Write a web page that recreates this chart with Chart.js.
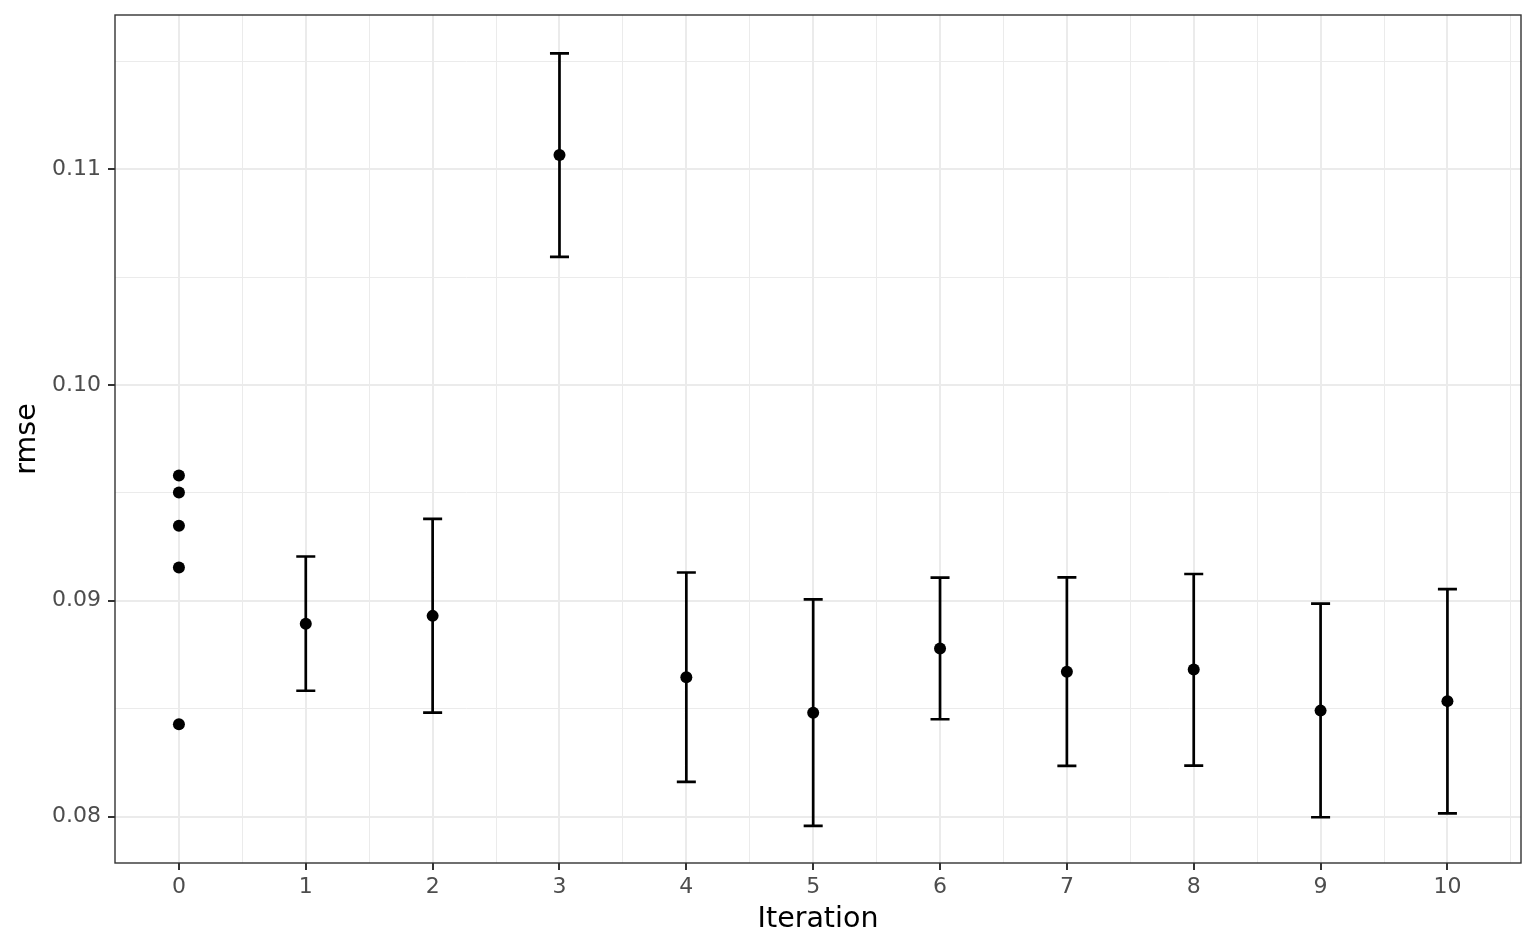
<!DOCTYPE html>
<html>
<head>
<meta charset="utf-8">
<script src="https://cdn.jsdelivr.net/npm/chart.js@4.4.1/dist/chart.umd.min.js"></script>
<style>
  html, body { margin: 0; padding: 0; background: #ffffff; }
  #wrap { width: 1536px; height: 949px; position: relative; }
</style>
</head>
<body>
<div id="wrap"><canvas id="c"></canvas></div>
<script>
// ---- data ----
const iter0Values = [0.09580, 0.09502, 0.09348, 0.09154, 0.08428];
const iterations = [1, 2, 3, 4, 5, 6, 7, 8, 9, 10];
const means = [0.08893, 0.08930, 0.11065, 0.08646, 0.08481, 0.08779, 0.08671, 0.08681, 0.08491, 0.08535];
const lower = [0.08583, 0.08482, 0.10593, 0.08161, 0.07957, 0.08451, 0.08235, 0.08236, 0.07997, 0.08015];
const upper = [0.09205, 0.09379, 0.11536, 0.09131, 0.09006, 0.09107, 0.09108, 0.09124, 0.08987, 0.09054];
const xTickValues = [0, 1, 2, 3, 4, 5, 6, 7, 8, 9, 10];
const xTickLabels = ['0', '1', '2', '3', '4', '5', '6', '7', '8', '9', '10'];
const xMinorValues = [0.5, 1.5, 2.5, 3.5, 4.5, 5.5, 6.5, 7.5, 8.5, 9.5, 10.5];
const yTickValues = [0.08, 0.09, 0.10, 0.11];
const yTickLabels = ['0.08', '0.09', '0.10', '0.11'];
const yMinorValues = [0.085, 0.095, 0.105, 0.115];
const xTitle = 'Iteration';
const yTitle = 'rmse';

// ---- styling constants ----
const CAP_HALF = 0.075;
const FONT = 'DejaVu Sans';

// build error bar segment datasets from the data
const stemData = [];
const capData = [];
iterations.forEach((it, i) => {
  stemData.push({x: it, y: lower[i]}, {x: it, y: upper[i]}, {x: it, y: null});
  capData.push({x: it - CAP_HALF, y: upper[i]}, {x: it + CAP_HALF, y: upper[i]}, {x: it, y: null});
  capData.push({x: it - CAP_HALF, y: lower[i]}, {x: it + CAP_HALF, y: lower[i]}, {x: it, y: null});
});
const pointData = iter0Values.map(v => ({x: 0, y: v}))
  .concat(iterations.map((it, i) => ({x: it, y: means[i]})));

const isMajor = (v, arr) => arr.some(a => Math.abs(a - v) < 1e-9);

const borderPlugin = {
  id: 'panelBorder',
  afterDraw(chart) {
    const {ctx, chartArea: a} = chart;
    ctx.save();
    ctx.strokeStyle = '#333333';
    ctx.lineWidth = 1.4;
    ctx.strokeRect(a.left, a.top, a.right - a.left, a.bottom - a.top);
    ctx.restore();
  }
};

new Chart(document.getElementById('c'), {
  type: 'scatter',
  data: {
    datasets: [
      {
        type: 'line', data: stemData, borderColor: '#000000', borderWidth: 2.7,
        pointRadius: 0, spanGaps: false, fill: false, order: 3
      },
      {
        type: 'line', data: capData, borderColor: '#000000', borderWidth: 2.7,
        pointRadius: 0, spanGaps: false, fill: false, order: 2
      },
      {
        type: 'scatter', data: pointData, backgroundColor: '#000000', borderColor: '#000000',
        pointRadius: 6, borderWidth: 0, order: 1
      }
    ]
  },
  options: {
    responsive: true,
    maintainAspectRatio: false,
    animation: false,
    devicePixelRatio: 1,
    layout: { padding: { left: 0, right: 15, top: 15, bottom: 0 } },
    plugins: { legend: { display: false }, tooltip: { enabled: false } },
    scales: {
      x: {
        type: 'linear',
        min: -0.504,
        max: 10.58,
        afterBuildTicks: s => {
          s.ticks = xTickValues.concat(xMinorValues).sort((a, b) => a - b).map(v => ({value: v}));
        },
        afterFit: s => { s.height = 86; s.paddingLeft = 0; s.paddingRight = 0; },
        ticks: {
          autoSkip: false, maxRotation: 0, minRotation: 0, padding: 4,
          color: '#4D4D4D', font: { family: FONT, size: 22 },
          callback: (v) => {
            const idx = xTickValues.findIndex(t => Math.abs(t - v) < 1e-9);
            return idx >= 0 ? xTickLabels[idx] : '';
          }
        },
        grid: {
          color: c => '#EBEBEB',
          lineWidth: c => isMajor(c.tick.value, xTickValues) ? 2 : 1,
          tickColor: c => isMajor(c.tick.value, xTickValues) ? '#333333' : 'rgba(0,0,0,0)',
          tickWidth: 2,
          tickLength: 7,
          drawTicks: true
        },
        border: { display: false },
        title: {
          display: true, text: xTitle, color: '#000000',
          font: { family: FONT, size: 28.5 }, padding: { top: 0, bottom: 12.5 }
        }
      },
      y: {
        type: 'linear',
        min: 0.07785,
        max: 0.11714,
        afterBuildTicks: s => {
          s.ticks = yTickValues.concat(yMinorValues).sort((a, b) => a - b).map(v => ({value: v}));
        },
        afterFit: s => { s.width = 115; s.paddingTop = 0; s.paddingBottom = 0; },
        ticks: {
          autoSkip: false, padding: 7,
          color: '#4D4D4D', font: { family: FONT, size: 22 },
          callback: (v) => {
            const idx = yTickValues.findIndex(t => Math.abs(t - v) < 1e-9);
            return idx >= 0 ? yTickLabels[idx] : '';
          }
        },
        grid: {
          color: c => '#EBEBEB',
          lineWidth: c => isMajor(c.tick.value, yTickValues) ? 2 : 1,
          tickColor: c => isMajor(c.tick.value, yTickValues) ? '#333333' : 'rgba(0,0,0,0)',
          tickWidth: 2,
          tickLength: 7,
          drawTicks: true
        },
        border: { display: false },
        title: {
          display: true, text: yTitle, color: '#000000',
          font: { family: FONT, size: 28.5 }, padding: { top: 10.5, bottom: 0 }
        }
      }
    }
  },
  plugins: [borderPlugin]
});
</script>
</body>
</html>
